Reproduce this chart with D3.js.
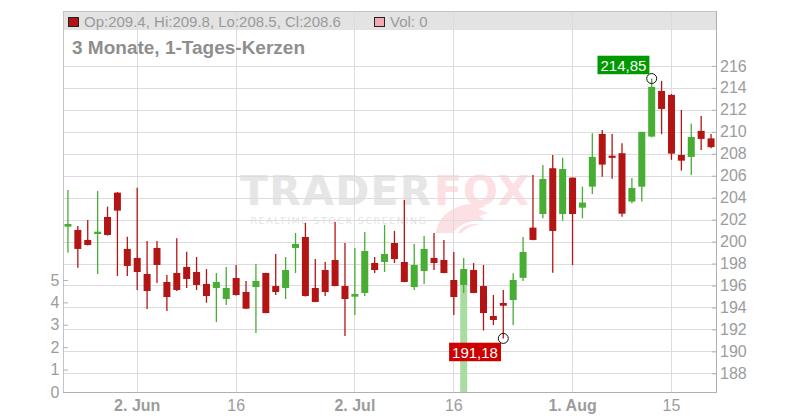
<!DOCTYPE html>
<html><head><meta charset="utf-8">
<script src="https://cdn.jsdelivr.net/npm/d3@7"></script>
<style>html,body{margin:0;padding:0;background:#fff}svg{display:block}</style>
</head><body>
<svg id="c" width="800" height="420"></svg>
<script>
const dates = ["2025-05-22","2025-05-23","2025-05-26","2025-05-27","2025-05-28","2025-05-29","2025-05-30",
"2025-06-02","2025-06-03","2025-06-04","2025-06-05","2025-06-06","2025-06-09","2025-06-10","2025-06-11","2025-06-12","2025-06-13",
"2025-06-16","2025-06-17","2025-06-18","2025-06-19","2025-06-20","2025-06-23","2025-06-24","2025-06-25","2025-06-26","2025-06-27",
"2025-06-30","2025-07-01","2025-07-02","2025-07-03","2025-07-04","2025-07-07","2025-07-08","2025-07-09","2025-07-10","2025-07-11",
"2025-07-14","2025-07-15","2025-07-16","2025-07-17","2025-07-18","2025-07-21","2025-07-22","2025-07-23","2025-07-24","2025-07-25",
"2025-07-28","2025-07-29","2025-07-30","2025-07-31","2025-08-01","2025-08-04","2025-08-05","2025-08-06","2025-08-07","2025-08-08",
"2025-08-11","2025-08-12","2025-08-13","2025-08-14","2025-08-15","2025-08-18","2025-08-19","2025-08-20","2025-08-21"];
const openP = [201.36,201.06,200.15,200.69,202.24,204.46,199.33,198.51,197.05,199.42,196.32,197.14,197.69,197.23,196.14,195.77,194.77,
196.68,195.41,195.86,197.14,195.95,195.77,199.42,200.42,195.77,197.41,198.32,195.95,194.98,195.32,198.05,198.14,199.87,198.14,195.86,197.32,
198.51,198.32,196.50,196.05,197.41,195.95,193.22,194.41,194.68,196.70,201.27,202.51,206.68,202.51,205.82,203.09,205.00,209.80,207.80,208.05,
203.64,205.00,209.56,213.72,213.36,207.89,207.71,210.08,209.4];
const highP = [204.70,201.42,201.97,204.61,203.18,204.50,200.45,204.91,200.05,200.05,196.96,200.30,199.08,198.60,197.50,197.14,197.69,
197.87,196.41,197.96,197.16,198.87,198.60,200.78,201.70,198.41,198.14,201.79,199.87,199.42,200.87,198.60,201.51,200.97,203.79,199.78,200.51,
200.78,200.15,199.05,198.51,198.05,197.87,195.13,195.59,197.11,200.42,206.07,206.98,207.89,207.64,205.84,205.00,209.87,210.17,209.80,208.96,
205.80,210.00,214.85,214.63,213.45,211.99,210.72,211.44,209.8];
const lowP = [198.99,197.62,199.65,197.05,200.55,196.87,196.87,195.59,193.86,196.23,193.68,195.50,195.77,195.59,194.43,192.67,194.22,
195.10,193.85,191.67,193.47,195.13,194.77,197.14,195.00,194.48,195.04,195.93,191.40,193.31,195.04,197.14,197.23,198.05,196.30,195.59,196.14,
197.41,197.12,193.31,195.32,195.30,191.90,192.40,191.18,192.40,196.41,200.13,202.12,197.17,201.90,197.87,202.12,204.34,205.91,205.73,202.27,
203.49,203.64,209.50,209.78,207.44,206.46,206.07,208.35,208.5];
const closeP = [201.60,199.33,199.69,200.90,200.60,202.82,197.78,197.23,195.50,197.87,194.95,195.59,196.59,196.05,195.04,196.32,195.77,
195.13,193.89,196.41,193.49,195.41,197.41,199.78,195.04,194.50,195.41,195.95,194.77,195.23,199.14,197.41,198.87,198.41,196.32,197.87,199.33,
198.05,197.14,194.95,197.50,195.32,193.49,192.86,194.16,196.50,199.05,200.15,205.70,200.97,206.61,202.51,203.55,207.71,207.01,207.65,202.54,
204.88,209.99,214.09,212.08,208.01,207.37,209.53,209.35,208.6];
const volume = dates.map((d,i)=> i===40 ? 5.2 : 0);
const priceTicks = [188,190,192,194,196,198,200,202,204,206,208,210,212,214,216];
const volTicks = [0,1,2,3,4,5];
const xTickDates = ["2025-06-02","2025-06-16","2025-07-02","2025-07-16","2025-08-01","2025-08-15"];
const xTickLabels = ["2. Jun","16","2. Jul","16","1. Aug","15"];
const xTickBold = [true,false,true,false,true,false];
const highMark = {date:"2025-08-13", value:214.85, label:"214,85"};
const lowMark = {date:"2025-07-23", value:191.18, label:"191,18"};

const L=63, R=716, T=11, B=392;
const RED="#b31515", GREEN="#47ad33", AX="#9c9c9c", GRID="#dcdcdc";
const svg = d3.select("#c");
const x = d3.scaleBand().domain(dates).range([L,R]);
const xc = d => x(d) + x.bandwidth()/2;
const y = d3.scaleLinear().domain([186.3,221.0]).range([B,T]);
const v = d3.scaleLinear().domain([0,17]).range([B,T]);

// header band
svg.append("rect").attr("x",L).attr("y",T).attr("width",R-L).attr("height",19).attr("fill","#e3e3e3");

// watermark
const wm = svg.append("g");
wm.append("path").attr("fill","#fde0e4")
  .attr("d","M436,233 C438,216 452,205 476,203 L486,206 L478,209 L488,213 L479,216 L486,221 L474,221 C463,223 456,228 453,233 Z");
wm.append("path").attr("fill","#fde0e4")
  .attr("d","M458,233 C462,226 470,223 480,224 L470,227 C466,229 463,231 462,233 Z");
const wt = wm.append("text").style("font-family","'DejaVu Sans'");
wt.append("tspan").attr("x",240).attr("y",205).style("font-size","41px").style("font-weight","bold")
  .style("letter-spacing","1.3px").attr("fill","#e6e6e6").text("TRADER");
wt.append("tspan").attr("x",434).attr("y",205).style("font-size","41px").style("font-weight","bold")
  .style("letter-spacing","1px").attr("fill","#fde0e4").text("FOX");
wm.append("text").attr("x",250.5).attr("y",223.6).style("font-family","'DejaVu Sans'").style("font-size","9.5px")
  .style("letter-spacing","1.55px").attr("fill","#e3e3e3").text("REALTIME STOCK SCREENING");

// gridlines
svg.append("g").attr("transform",`translate(${R},0)`)
  .call(d3.axisLeft(y).tickValues(priceTicks).tickSize(R-L).tickFormat(""))
  .call(g=>{g.select(".domain").remove(); g.selectAll("line").attr("stroke",GRID).attr("shape-rendering","crispEdges");});
svg.append("g").attr("transform",`translate(0,${B})`)
  .call(d3.axisTop(x).tickValues(xTickDates).tickSize(B-T).tickFormat(""))
  .call(g=>{g.select(".domain").remove(); g.selectAll("line").attr("stroke",GRID).attr("shape-rendering","crispEdges");});

// volume bars
svg.append("g").selectAll("rect").data(dates.filter((d,i)=>volume[i]>0)).join("rect")
  .attr("x",d=>xc(d)-3.5).attr("width",7)
  .attr("y",d=>v(volume[dates.indexOf(d)])).attr("height",d=>B - v(volume[dates.indexOf(d)]))
  .attr("fill","#a9dca1");

// candles
const cg = svg.append("g");
dates.forEach((d,i)=>{
  const up = closeP[i] >= openP[i];
  const col = up ? GREEN : RED;
  cg.append("line").attr("x1",xc(d)).attr("x2",xc(d)).attr("y1",y(highP[i])).attr("y2",y(lowP[i]))
    .attr("stroke",col).attr("stroke-width",1.3);
  const top = y(Math.max(openP[i],closeP[i])), bot = y(Math.min(openP[i],closeP[i]));
  const h = Math.max(2.2, bot-top);
  cg.append("rect").attr("x",xc(d)-3.5).attr("width",7).attr("y",(top+bot)/2 - h/2).attr("height",h).attr("fill",col);
});

// frame
const fr = svg.append("g").attr("shape-rendering","crispEdges");
fr.append("line").attr("x1",L).attr("x2",R).attr("y1",T+0.5).attr("y2",T+0.5).attr("stroke","#c4c4c4");
fr.append("line").attr("x1",L+0.5).attr("x2",L+0.5).attr("y1",T).attr("y2",B).attr("stroke","#c4c4c4");
fr.append("line").attr("x1",R+0.5).attr("x2",R+0.5).attr("y1",T).attr("y2",B+1).attr("stroke","#b0b0b0");
fr.append("line").attr("x1",L).attr("x2",R+1).attr("y1",B+0.5).attr("y2",B+0.5).attr("stroke","#b0b0b0");

// right price axis
svg.append("g").attr("transform",`translate(${R},0)`)
  .call(d3.axisRight(y).tickValues(priceTicks).tickSize(4).tickPadding(0))
  .call(g=>{g.select(".domain").remove();
    g.selectAll("line").attr("stroke","#b0b0b0").attr("x1",-4).attr("x2",0);
    g.selectAll("text").attr("x",4).attr("fill",AX).style("font","16px 'Liberation Sans', Arial, sans-serif");});

// left volume axis
svg.append("g").attr("transform",`translate(${L},0)`)
  .call(d3.axisLeft(v).tickValues(volTicks).tickSizeInner(-5).tickSizeOuter(0).tickPadding(3.5).tickFormat(d3.format("d")))
  .call(g=>{g.select(".domain").remove();
    g.selectAll("line").attr("stroke","#b0b0b0");
    g.selectAll("text").attr("fill",AX).style("font","16px 'Liberation Sans', Arial, sans-serif");});

// bottom date axis
svg.append("g").attr("transform",`translate(0,${B})`)
  .call(d3.axisBottom(x).tickValues(xTickDates).tickSize(0).tickPadding(8).tickFormat((d,i)=>xTickLabels[i]))
  .call(g=>{g.select(".domain").remove();
    g.selectAll("text").attr("fill",AX).style("font-family","'Liberation Sans', Arial, sans-serif").style("font-size","16px")
      .style("font-weight",(d,i)=>xTickBold[i]?"bold":"normal");});

// legend
svg.append("rect").attr("x",68.5).attr("y",17.5).attr("width",10).attr("height",9).attr("fill",RED).attr("stroke","#222");
svg.append("text").attr("x",84).attr("y",26.7).attr("fill","#9a9a9a").style("font","15px 'Liberation Sans', Arial, sans-serif")
  .text(`Op:${openP[65]}, Hi:${highP[65]}, Lo:${lowP[65]}, Cl:${closeP[65]}`);
svg.append("rect").attr("x",374.5).attr("y",17.5).attr("width",10).attr("height",9).attr("fill","#f2a9b3").attr("stroke","#222");
svg.append("text").attr("x",390).attr("y",26.7).attr("fill","#9a9a9a").style("font","15px 'Liberation Sans', Arial, sans-serif")
  .text(`Vol: ${volume[65]}`);
svg.append("text").attr("x",72).attr("y",54).attr("fill","#8e8e8e").attr("textLength",233).attr("lengthAdjust","spacingAndGlyphs")
  .style("font","bold 18px 'Liberation Sans', Arial, sans-serif").text("3 Monate, 1-Tages-Kerzen");

// extreme markers
function mark(m, color, above){
  const cx = xc(m.date), cy = y(m.value);
  svg.append("circle").attr("cx",cx).attr("cy",cy).attr("r",5).attr("fill","none").attr("stroke","#111").attr("stroke-width",1);
  const t = svg.append("text").style("font","15px 'Liberation Sans', Arial, sans-serif").attr("fill","#fff").text(m.label);
  const w = t.node().getComputedTextLength() + 6, h = 18.5;
  const bx = cx - 2.3 - w, by = above ? cy - 4.3 - h : cy + 4.3;
  svg.insert("rect", () => t.node()).attr("x",bx).attr("y",by).attr("width",w).attr("height",h).attr("fill",color);
  t.attr("x",bx+3).attr("y",by+14.8);
}
mark(highMark, "#009a00", true);
mark(lowMark, "#cc0000", false);
</script>
</body></html>
